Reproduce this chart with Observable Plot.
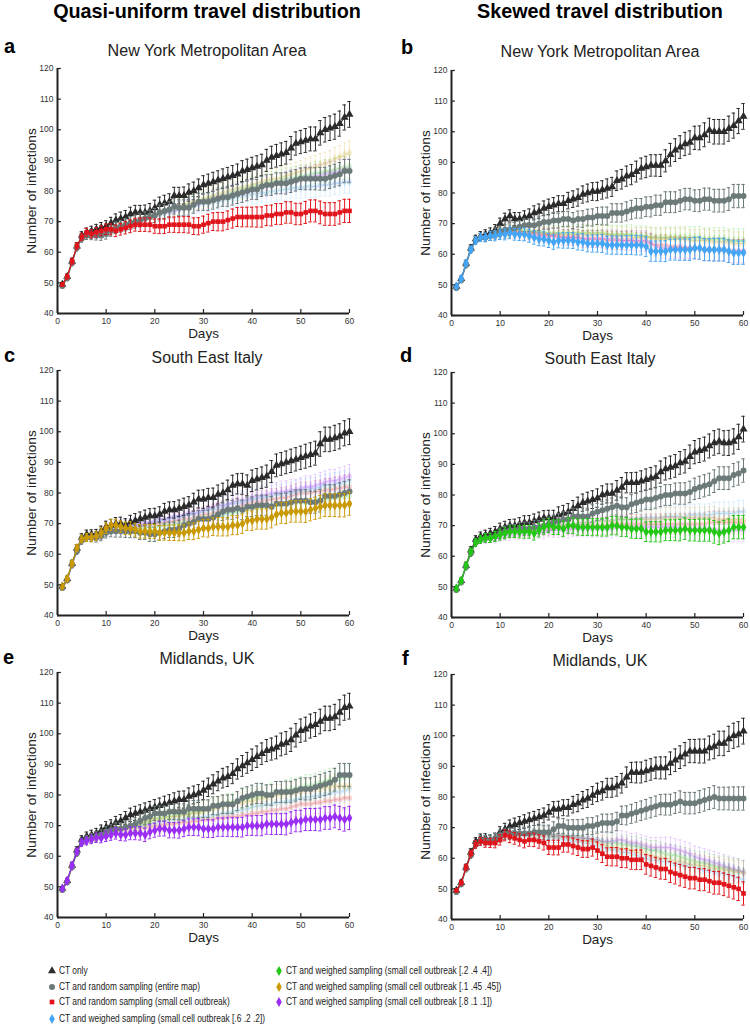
<!DOCTYPE html>
<html><head><meta charset="utf-8">
<script src="https://cdn.jsdelivr.net/npm/d3@7"></script>
<script src="https://cdn.jsdelivr.net/npm/@observablehq/plot@0.6"></script>
<style>
body{margin:0;background:#fff;font-family:"Liberation Sans",Arial,sans-serif;}
#root{position:relative;width:750px;height:1028px;overflow:hidden;background:#fff;}
.abs{position:absolute;white-space:nowrap;line-height:1;}
.coltitle{font-weight:bold;color:#000;transform:translateX(-50%);}
.letter{font-weight:bold;color:#000;}
.ptitle{color:#222;transform:translateX(-50%);}
.legtext{font-size:11.5px;color:#222;transform-origin:0 50%;display:inline-block;}
.plot{position:absolute;}
</style></head><body><div id="root"></div><script>
// ---------- data ----------
const days = [1,2,3,4,5,6,7,8,9,10,11,12,13,14,15,16,17,18,19,20,21,22,23,24,25,26,27,28,29,30,31,32,33,34,35,36,37,38,39,40,41,42,43,44,45,46,47,48,49,50,51,52,53,54,55,56,57,58,59,60];
const xTicks = [0,10,20,30,40,50,60];
const yTicks = [40,50,60,70,80,90,100,110,120];
const seriesNames = ["CT only","CT and random sampling (entire map)","CT and random sampling (small cell outbreak)","CT and weighed sampling (small cell outbreak [.6 .2 .2])","CT and weighed sampling (small cell outbreak [.2 .4 .4])","CT and weighed sampling (small cell outbreak [.1 .45 .45])","CT and weighed sampling (small cell outbreak [.8 .1 .1])"];
const seriesColors = ["#2b2b2b","#6c7a7a","#e0141a","#42a5f5","#22c814","#c99a06","#9a2ef5"];
const seriesSymbols = ["triangle","circle","square","diamond","diamond","diamond","diamond"];
const columnTitles = ["Quasi-uniform travel distribution","Skewed travel distribution"];
const panelLetters = ["a","b","c","d","e","f"];
const panelTitles = ["New York Metropolitan Area","New York Metropolitan Area","South East Italy","South East Italy","Midlands, UK","Midlands, UK"];

const errCT = [0.6,0.8,1,1.1,1.2,1.4,1.5,1.6,1.7,1.8,1.9,2,2.1,2.1,2.2,2.3,2.3,2.4,2.4,2.5,2.5,2.6,2.6,2.7,2.7,2.8,2.8,2.9,2.9,3,3,3.1,3.1,3.2,3.2,3.3,3.3,3.4,3.4,3.5,3.5,3.5,3.6,3.6,3.7,3.7,3.7,3.8,3.8,3.8,3.9,3.9,3.9,4,4,4,4.1,4.1,4.1,4.2];
const errOther = [0.6,0.8,1,1.1,1.2,1.3,1.4,1.5,1.6,1.7,1.8,1.9,1.9,2,2.1,2.1,2.2,2.2,2.3,2.3,2.4,2.4,2.5,2.5,2.6,2.6,2.7,2.7,2.8,2.8,2.9,2.9,3,3,3,3.1,3.1,3.2,3.2,3.2,3.3,3.3,3.3,3.4,3.4,3.4,3.5,3.5,3.5,3.5,3.6,3.6,3.6,3.7,3.7,3.7,3.7,3.8,3.8,3.8];

// panel a
const a_ct = [49.5,52,57,62,65.5,66.5,67,67.5,68,68.5,69.5,70.5,71,71.5,72.5,73,73,73,73.5,74.5,75.5,76,76.5,78.5,78.5,78.5,79.5,80,81,82,82.5,83,83.5,84,84.5,85,85.5,86.5,87,87.5,88,88.5,90,91,91.5,92,92.5,94,95.5,96,96.5,97,97,99,100,100.5,101,102,104,105];
const a_rand = [49,51.5,56.5,61.5,64.5,65.5,65.5,65.5,65.5,66,67,68,68.5,69,69.5,70,70.5,71,71.5,72,73,73.5,74,75,74.5,74.5,74.5,75.5,76.5,76.5,76.5,77,77.5,78,78,78.5,79,79.5,80,80.5,80.5,81.5,82,82,82.5,82.5,82.5,83,83.5,84,84,84,84,84,84,84.5,85,85.5,86.5,86.5];
const a_small = [49.5,52,57,62,65,66.5,66,66.5,67,67.5,67.5,67,67.5,68,68.5,69,69,69,69,68.5,68.5,68.5,69,69,69,69,69,68.5,68.5,69,69.5,70,70,70,70.5,71,71.5,71.5,71.5,71.5,71.5,71.5,72,72,72.5,72.5,73,73,72.5,72.5,73,73.5,73.5,73,72.5,72.5,72.5,73,73.5,73.5];
const a_w622 = [49.5,52,57,61.5,64.5,65.5,66,66,66.5,67,67.5,68,68.5,69,69.5,70,70.5,71,71.5,72,72.5,73,73.5,74,74,74.5,75,75,75.5,76,76,76.5,76.5,77,77.5,77.5,78,78.5,78.5,79,79,79.5,79.5,80,80,80.5,80.5,81,81,81,81.5,81.5,81.5,82,82,82,82.5,82.5,83,83];
const a_w244 = [49.5,52,57,61.5,64.5,65.5,66,66.5,66.5,67,67.5,68,68.5,69,69.5,70,70.5,71,71.5,72,72.5,73,73.5,74,74.5,75,75.5,76,76.5,77,77.5,78,78,78.5,79,79.5,80,80.5,81,81.5,81.5,82,82.5,83,83,83.5,84,84,84.5,85,85,85.5,86,86,86.5,86.5,87,87.5,87.5,88];
const a_w14545 = [49.5,52,57,62,65,65.5,66,66.5,67,67.5,68,68.5,69,69.5,70,70.5,71,71.5,72,72.5,73,73.5,74,74.5,75,75.5,76,76.5,77,77.5,78,78.5,79,79.5,80,80.5,81,81,81.5,82,82.5,83,83.5,84,84,84.5,85,85.5,86,86.5,87,87.5,88,88.5,89,89.5,90.5,91,92,92.5];
const a_w811 = [49.5,52,57,61.5,64.5,65.5,66,66,66.5,67,67.5,68,68.5,69,69.5,70,70.5,71,71.5,72,72.5,73,73,73.5,74,74.5,75,75.5,76,76.5,77,77.5,78,78,78.5,79,79.5,79.5,80,80.5,81,81.5,81.5,82,82.5,82.5,83,83.5,83.5,84,84.5,84.5,85,85,85.5,86,86,86.5,87,87];
// panel b
const b_ct = [49.5,52,57,62,65,66,66.5,67,68,70,71.5,72.5,71.5,71.5,72,72.5,73.5,74,75,75.5,76,76.5,76.5,77.5,78,78.5,79.5,80,80.5,80.5,81,81.5,82,84,84.5,85.5,86,87,88,88.5,89,89,89,90.5,92.5,94,95,96,96.5,98,98,99,100.5,100,100,100,101,102,103.5,105];
const b_rand = [49,51.5,56.5,61.5,64.5,65.5,65.5,66,67,67.5,68,68,68.5,69,69.5,69.5,69.5,70,70.5,70.5,71,71,71.5,71.5,71,71.5,71.5,72,72,72.5,72.5,72.5,73.5,73.5,73.5,74,74.5,75,75,75.5,75.5,76,76,77,77,77,77.5,78,78,77.5,77.5,78,78,77.5,77.5,77.5,78,79,79,79];
const b_small = [49.5,52,57,61.5,64.5,65.5,66,66,66.5,67,67,67.5,67.5,67.5,67,67,67,66.5,66.5,66,66,66,65.5,65.5,65.5,65.5,65,65,65,65,65,64.5,64.5,64.5,64.5,64.5,64.5,64,64,64,63.5,63,63,63,62.5,62.5,62.5,62,62,62,62,61.5,61.5,61.5,61.5,61.5,61,61,61,61];
const b_w622 = [49.5,52,57,61.5,64.5,65.5,65.5,66,66,66.5,66.5,67,66.5,66.5,66.5,66,65.5,65,65,64.5,64,64.5,64.5,64.5,64.5,64,64,63.5,63.5,63.5,63.5,63,63,63,63,63,63,63,63,62.5,61,61,61,61,61.5,61.5,61.5,61.5,61.5,62,62,61.5,61.5,61.5,61.5,61.5,61,60.5,60.5,60.5];
const b_w244 = [49.5,52,57,61.5,64.5,65.5,66,66,66.5,67,67.5,67.5,68,68,68,67.5,67.5,67.5,67,67,67,67,67,67,67,67,67,67,67,67,67,66.5,66.5,66.5,66.5,66.5,66.5,66,66,66,65.5,65.5,65.5,65.5,65.5,65.5,65.5,65.5,65.5,65.5,65.5,65,65,65,65,65,64.5,64.5,64.5,64.5];
const b_w14545 = [49.5,52,57,61.5,64.5,65.5,66,66,66.5,67,67,67.5,67.5,67.5,67.5,67,67,67,66.5,66.5,66.5,66.5,66.5,66.5,66.5,66.5,66.5,66.5,66.5,66.5,66.5,66.5,66,66,66,66,65.5,65.5,65.5,65.5,65.5,65,65,65,65,65,65,65,64.5,64.5,64.5,64.5,64.5,64,64,64,64,63.5,63.5,63.5];
const b_w811 = [49.5,52,57,61.5,64.5,65.5,66,66,66.5,66.5,67,67,67,67,66.5,66.5,66.5,66,66,66,66,65.5,65.5,65.5,65.5,65.5,65,65,65,65,65,65,65,65,64.5,64.5,64.5,64.5,64.5,64.5,63.5,62.5,62,62,62,62,62,62,62,62,62,61.5,61.5,61.5,61.5,61.5,61,61,61,61];
// panel c
const c_ct = [49.5,52,57,62,65.5,66.5,66.5,66.5,67.5,69,69.5,70,70,69.5,70.5,71,71.5,72,72.5,72.5,73,74,74.5,74.5,75,75.5,76,77,78,78,78.5,78.5,79.5,80,81,82.5,83,83,82.5,84,84.5,85,85.5,87,89,89.5,90,90.5,91,91.5,92,92.5,93,96,97.5,97.5,98,98.5,99.5,100];
const c_rand = [49,51.5,56.5,61,64.5,65.5,65.5,65.5,66,67,67.5,67.5,67.5,67.5,67.5,67.5,67,67,66.5,66.5,67,67.5,68,68,68.5,69.5,70,70.5,71.5,71.5,71.5,72,73,74,74.5,74.5,75,74.5,75.5,75.5,76,76,76,75.5,76.5,76.5,76.5,77,77.5,77.5,77.5,77,77,77.5,79,79,79,79.5,80,80.5];
const c_small = [49.5,52,57,61.5,64.5,65.5,66,66,66.5,67.5,68.5,69,69,69,69,69,69,69.5,69.5,70,70,70.5,70.5,71,71,71.5,71.5,72,72.5,73,73,73.5,74,74.5,75,75,75.5,76,76.5,77,77,77.5,77.5,78,78,78.5,78.5,79,79.5,80,80,80,80.5,80.5,81,81,81.5,81.5,82,82];
const c_w622 = [49.5,52,57,61.5,64.5,65.5,66,66,66.5,67.5,68.5,69,69,69,69.5,69.5,69.5,70,70,70.5,71,71,71.5,72,72,72.5,73,73,73.5,74,74.5,74.5,75,75.5,76,76.5,76.5,77,77.5,78,78,78.5,78.5,79,79.5,79.5,80,80,80.5,81,81,81.5,81.5,82,82.5,82.5,83,83,83.5,84];
const c_w244 = [49.5,52,57,61.5,64.5,65.5,66,66,66.5,67.5,68.5,69,69,68.5,68.5,68.5,68.5,68.5,69,69,69,69.5,69.5,70,70,70.5,70.5,71,71.5,72,72,72.5,72.5,73,73.5,73.5,74,74,74.5,75,75,75.5,75.5,76,76,76,76.5,76.5,77,77,77,77.5,77.5,78,78,78,78.5,78.5,79,79];
const c_w14545 = [49.5,52,57,62,65,65.5,65.5,66,67,68.5,69.5,69.5,69,68.5,68.5,68,67.5,67.5,67.5,67.5,67,67,67,67,67,67,67.5,67.5,68,68.5,68.5,69,69,69,69,69.5,69.5,70,71,71,71.5,71.5,71.5,72,73,73.5,73.5,74,74,74,74,74.5,75,75.5,76,76,76,76,76,76.5];
const c_w811 = [49.5,52,57,61.5,64.5,65.5,66,66,66.5,67.5,68.5,69,69.5,69.5,69.5,70,70,70.5,70.5,71,71.5,71.5,72,72.5,72.5,73,73.5,73.5,74,74.5,75,75.5,76,76,76.5,77,77.5,77.5,78,78.5,79,79,79.5,80,80,80.5,80.5,81,81,81.5,82,82,82.5,83,83.5,84,84,84.5,85,85.5];
// panel d
const d_ct = [49.5,52,57,62,65.5,66.5,67,67.5,68,69,69.5,70,70,70.5,71,71,71.5,72,72.5,72.5,72.5,73.5,74,74.5,75.5,76.5,77.5,78,78.5,79,80,80.5,80.5,81.5,82.5,84,84,84,84.5,85,85.5,86,87.5,88.5,89,89.5,90.5,91,92.5,94,94.5,95,96,97,97.5,97,97,97.5,99,101.5];
const d_rand = [49,51.5,56.5,61,64.5,65.5,66,66,66.5,67.5,68,68.5,68.5,69,69,69,69.5,69.5,70,70.5,71,71.5,72,72,73,73,73,73,74,74.5,75,75.5,76,76.5,76,76,77,77.5,78,78.5,78.5,79,79.5,80,80,80.5,80.5,80.5,81,82,82.5,83,83.5,84.5,85.5,85.5,85.5,86.5,87,88];
const d_small = [49.5,52,57,61.5,64.5,65.5,66,66,66.5,67,67.5,68,68,68.5,68.5,68.5,68.5,69,69,69,69,69.5,69.5,69.5,69.5,69.5,70,70,70,70,70,70,70.5,70.5,70.5,70.5,70.5,70.5,70.5,70.5,70.5,70.5,70.5,70.5,70.5,70.5,70.5,70.5,70.5,70.5,70.5,70.5,71,71,71,71,71,71,71,71];
const d_w622 = [49.5,52,57,61.5,64.5,65.5,66,66,66.5,67,67.5,68,68.5,68.5,69,69,69,69.5,69.5,70,70,70,70.5,70.5,70.5,70.5,71,71,71,71.5,71.5,71.5,71.5,72,72,72,72,72,72.5,72.5,72.5,72.5,72.5,73,73,73,73,73,73.5,73.5,73.5,73.5,73.5,74,74,74,74,74,74.5,74.5];
const d_w244 = [49.5,52,57,61.5,64.5,65.5,66,66,66.5,67,67.5,68,68,68,68,68,67.5,68.5,69.5,70,69.5,69.5,69,70,70,69.5,69.5,69.5,69.5,69.5,69.5,69.5,70,70,69.5,69.5,69,69,69,68,68,68,68,68.5,68.5,68.5,68.5,69,68.5,68.5,68.5,68.5,68.5,68,67.5,68,68.5,69.5,69.5,69.5];
const d_w14545 = [49.5,52,57,61.5,64.5,65.5,66,66,66.5,67,67.5,68,68.5,68.5,69,69,69,69.5,69.5,70,70,70,70.5,70.5,70.5,71,71,71,71,71.5,71.5,71.5,71.5,72,72,72,72,72,72,72,72,72,72.5,72.5,72.5,72.5,72.5,72.5,72.5,72.5,72.5,72.5,72.5,72.5,72,72,72,72,72,72];
const d_w811 = [49.5,52,57,61.5,64.5,65.5,65.5,66,66,66.5,67,67,67.5,67.5,67.5,68,68,68,68,68.5,68.5,68.5,68.5,68.5,69,69,69,69,69,69,69,69,69,69.5,69.5,69.5,69.5,69.5,69.5,69.5,69.5,69.5,69.5,69.5,69.5,69.5,69,69,69,69,69,69,69,69,68.5,68.5,68.5,68.5,68.5,68.5];
// panel e
const e_ct = [49.5,52,57,62,65.5,66.5,67,67.5,68.5,69.5,70,71,71.5,72.5,73.5,74,74.5,75,75.5,76,76.5,77,77.5,78,78.5,78.5,79.5,80,80.5,81.5,82.5,83.5,84.5,85.5,86,87,88.5,89.5,90.5,91.5,92.5,93.5,94.5,95,95.5,96.5,97,98,99.5,101,101.5,102.5,103,104,105,105,105.5,107,108.5,109];
const e_rand = [49,51.5,56.5,61,64.5,65.5,66,66.5,67,68,68.5,69,69,69.5,70,70.5,71.5,72.5,73,74,74,74,74.5,74.5,74.5,74.5,75.5,75.5,75.5,75.5,75.5,76.5,76.5,77,77,77,78,79,79.5,80,80.5,80.5,80,80,81,81,81,81,81.5,82,82,82,82.5,83,83.5,84,85,86.5,86.5,86.5];
const e_small = [49.5,52,57,61.5,64.5,65.5,66,66.5,67,67.5,68,68,68.5,68.5,69,69,69,69.5,69.5,70,70,70.5,70.5,70.5,71,71,71,71.5,71.5,72,72,72,72.5,72.5,73,73,73,73.5,73.5,74,74,74.5,74.5,75,75,75.5,75.5,76,76.5,77,77,77,77.5,77.5,78,78,78.5,78.5,79,79];
const e_w622 = [49.5,52,57,61.5,64.5,65.5,66,66.5,67,67.5,68,68.5,68.5,69,69.5,69.5,70,70,70.5,71,71,71.5,71.5,72,72,72,72.5,72.5,72.5,73,73,73.5,73.5,74,74,74.5,75,75,75.5,76,76.5,76.5,77,77,77.5,77.5,78,78,78.5,79,79,79.5,79.5,80,80,80.5,81,81,81.5,82];
const e_w244 = [49.5,52,57,61.5,64.5,65.5,66,66.5,67,67.5,68,68.5,69,69.5,70,70,70.5,71,71.5,72.5,72.5,73,73,73.5,73.5,74,74,74.5,74.5,75,75.5,76,76.5,77,77.5,77.5,78,78.5,79,79,79.5,80,80,80.5,81,81,81.5,82,82,82.5,83,83,83.5,84,84.5,85,85,85.5,86,86];
const e_w14545 = [49.5,52,57,61.5,64.5,65.5,66,66.5,67,67.5,68,68.5,69,69.5,69.5,70,70.5,71,71.5,72,72,72.5,72.5,73,73,73.5,73.5,74,74,74.5,75,75.5,76,76.5,77,77,77.5,77.5,78,78,78.5,79,79,79.5,80,80,80.5,80.5,81,81,81.5,81.5,82,82,82.5,82.5,83,83,83,83];
const e_w811 = [49.5,52,57,61.5,64.5,65,65.5,66,66,66.5,67,67.5,67,67,67.5,67.5,67.5,67,68,68.5,69,69,68.5,68.5,68.5,69,69.5,69.5,69.5,69,69,69,69.5,69.5,69.5,69.5,69.5,69.5,70,70,70,70,70.5,70.5,70.5,70.5,70.5,71,71.5,71.5,72,72,72,72,72.5,72.5,73,72.5,72,72.5];
// panel f
const f_ct = [49.5,52,57,62,65.5,66.5,66.5,66,66.5,68.5,69.5,70.5,71,71.5,72,72.5,73,73.5,74,75,76,76,76.5,76.5,77.5,78,79,79.5,80.5,81.5,82,83,83,83.5,84.5,86.5,88,88,88,88.5,89,89.5,89.5,89.5,91,92,93,94,95,95,95,95,96,96.5,97.5,97.5,99,100,100.5,101.5];
const f_rand = [49,51.5,56.5,61,64.5,66,66,66,66.5,67.5,68,68,68,68,68,68,68.5,68.5,68.5,68.5,69.5,70.5,70.5,70,70,70,70,70.5,70.5,71,71.5,71.5,71.5,72,74,74,74.5,75,75.5,76,76.5,77,77.5,77.5,77.5,78,78.5,78,78,78,78.5,79,79.5,80,79.5,79.5,79.5,79.5,79.5,79.5];
const f_small = [49.5,52,57,61.5,64.5,65.5,65,65,65,66,67.5,67,66.5,66,65.5,66,66,65.5,65,63.5,63.5,63.5,64.5,64.5,64,63.5,63,63,63.5,62.5,61.5,60.5,60.5,60.5,60,60,59.5,59.5,59.5,58,57.5,57,56.5,56.5,55.5,55,54.5,54,53.5,53.5,53,53,52.5,52,52,51.5,51,50.5,50,48.5];
const f_w622 = [49.5,52,57,61.5,64.5,65.5,65.5,65.5,66,67,67.5,68,68,67.5,67.5,67.5,67.5,67,67,67,66.5,66.5,66,66,65.5,65.5,65,65,64.5,64,63.5,63,63,62.5,62,62,61.5,61,60.5,60,59.5,59.5,59,59,58.5,58,58,57.5,57.5,57,56.5,56,56,55.5,55,55,54.5,54,53.5,53];
const f_w244 = [49.5,52,57,61.5,64.5,65.5,65.5,66,66,67,68,68.5,68.5,68.5,68.5,68.5,68.5,68,68,68,67.5,67.5,67.5,67,67,67,66.5,66.5,66,66,65.5,65,65,65,64.5,64.5,64,64,63.5,63,62.5,62.5,62,61.5,61,61,60.5,60,59.5,59,58.5,58.5,58,57.5,57,57,56.5,56,56,55.5];
const f_w14545 = [49.5,52,57,61.5,64.5,65.5,65.5,66,66,67,68,68,68,68,68,68,67.5,67.5,67.5,67.5,67,67,67,66.5,66.5,66,66,65.5,65.5,65,64.5,64,63.5,63.5,63,63,62.5,62,62,61.5,61,60.5,60.5,60,59.5,59,59,58.5,58,58,57.5,57.5,57,56.5,56.5,56,56,55.5,55.5,55];
const f_w811 = [49.5,52,57,61.5,64.5,65.5,65.5,66,66,67,68,68.5,68.5,68.5,68.5,68.5,68.5,68,68,68,67.5,67.5,67,67,67,66.5,66.5,66.5,66,66,65.5,65.5,65.5,66,66,65.5,65,65,64.5,64,63.5,63.5,63.5,63.5,63.5,63,62.5,62,61.5,60.5,60,59.5,59,58.5,58,57.5,57,56.5,56,55.5];

const panelSeries = [
  [a_ct,a_rand,a_small,a_w622,a_w244,a_w14545,a_w811],
  [b_ct,b_rand,b_small,b_w622,b_w244,b_w14545,b_w811],
  [c_ct,c_rand,c_small,c_w622,c_w244,c_w14545,c_w811],
  [d_ct,d_rand,d_small,d_w622,d_w244,d_w14545,d_w811],
  [e_ct,e_rand,e_small,e_w622,e_w244,e_w14545,e_w811],
  [f_ct,f_rand,f_small,f_w622,f_w244,f_w14545,f_w811]
];
const panelHighlight = [2,3,5,4,6,2];

// ---------- layout ----------
const layout = [
  {left:0,   top:58,  ml:57, mr:26, letterX:4,   letterBase:53,  titleX:207, titleBase:56,  titleW:199},
  {left:375, top:60,  ml:76, mr:7,  letterX:401, letterBase:54,  titleX:600, titleBase:57,  titleW:199},
  {left:0,   top:360, ml:57, mr:26, letterX:4,   letterBase:362, titleX:207, titleBase:363, titleW:111},
  {left:375, top:362, ml:76, mr:7,  letterX:400, letterBase:362, titleX:600, titleBase:364, titleW:111},
  {left:0,   top:662, ml:57, mr:26, letterX:3,   letterBase:664, titleX:207, titleBase:665, titleW:95},
  {left:375, top:664, ml:76, mr:7,  letterX:402, letterBase:665, titleX:600, titleBase:667, titleW:95}
];
const root = document.getElementById("root");
function addText(cls, txt, x, baseline, fs, targetW) {
  const el = document.createElement("div");
  el.className = "abs " + cls;
  el.textContent = txt;
  el.style.left = x + "px";
  el.style.fontSize = fs + "px";
  root.appendChild(el);
  if (targetW) {
    const w = el.getBoundingClientRect().width;
    if (w > 0) fs = Math.max(fs * 0.8, Math.min(fs * 1.2, fs * targetW / w));
    el.style.fontSize = fs + "px";
  }
  el.style.top = (baseline - 0.8465 * fs) + "px";
  return el;
}
addText("coltitle", columnTitles[0], 207, 19, 20, 308);
addText("coltitle", columnTitles[1], 600, 19, 20, 246);

const symR = {triangle: 3.0, circle: 3.0, square: 2.6, diamond: 3.0};

function seriesMarks(vals, idx, faded, isCT) {
  const color = seriesColors[idx];
  const err = isCT ? errCT : errOther;
  const rows = days.map((d, i) => ({day: d, v: vals[i], e: err[i]}));
  const op = faded ? 0.18 : 1;
  const sw = 1;
  return [
    Plot.ruleX(rows, {x: "day", y1: d => d.v - d.e, y2: d => d.v + d.e, stroke: color, strokeWidth: sw, strokeOpacity: op}),
    Plot.ruleY(rows, {y: d => d.v + d.e, x1: d => d.day - 0.35, x2: d => d.day + 0.35, stroke: color, strokeWidth: sw, strokeOpacity: op}),
    Plot.ruleY(rows, {y: d => d.v - d.e, x1: d => d.day - 0.35, x2: d => d.day + 0.35, stroke: color, strokeWidth: sw, strokeOpacity: op}),
    Plot.line(rows, {x: "day", y: "v", stroke: color, strokeWidth: 1.1, strokeOpacity: op}),
    Plot.dot(rows, {x: "day", y: "v", symbol: seriesSymbols[idx], r: symR[seriesSymbols[idx]], fill: color, fillOpacity: op, stroke: "none"})
  ];
}

panelSeries.forEach((series, p) => {
  const L = layout[p];
  const hi = panelHighlight[p];
  addText("letter", panelLetters[p], L.letterX, L.letterBase, 20);
  addText("ptitle", panelTitles[p], L.titleX, L.titleBase, 16, L.titleW);
  const marks = [];
  for (let s = 2; s < 7; s++) if (s !== hi) marks.push(...seriesMarks(series[s], s, true, false));
  marks.push(...seriesMarks(series[0], 0, false, true));
  marks.push(...seriesMarks(series[1], 1, false, false));
  marks.push(...seriesMarks(series[hi], hi, false, false));
  marks.push(
    Plot.ruleX(xTicks, {x: d => d, y1: 40, y2: 41.3, stroke: "#222", strokeWidth: 1.2}),
    Plot.ruleY(yTicks, {y: d => d, x1: 0, x2: 0.8, stroke: "#222", strokeWidth: 1.2}),
    Plot.ruleY([40], {stroke: "#222", strokeWidth: 2}),
    Plot.ruleX([0], {stroke: "#222", strokeWidth: 2}),
    Plot.axisX(xTicks, {tickSize: 0, tickPadding: 4, fontSize: 8.5, fill: "#333", label: null}),
    Plot.axisY(yTicks, {tickSize: 0, tickPadding: 4, fontSize: 8.5, fill: "#333", label: null}),
    Plot.text(["Days"], {frameAnchor: "bottom", dy: 20, fontSize: 13.5, fill: "#222", lineAnchor: "middle", textAnchor: "middle"}),
    Plot.text(["Number of infections"], {frameAnchor: "left", dx: -26, rotate: -90, fontSize: 13.7, fill: "#222", textAnchor: "middle", lineAnchor: "middle"})
  );
  const chart = Plot.plot({
    width: 375, height: 300,
    marginLeft: L.ml, marginRight: L.mr, marginTop: 10, marginBottom: 45,
    x: {domain: [0, 60]},
    y: {domain: [40, 120]},
    style: {background: "transparent", overflow: "visible", fontFamily: "'Liberation Sans', Arial, sans-serif"},
    marks
  });
  chart.classList.add("plot");
  chart.style.left = L.left + "px";
  chart.style.top = L.top + "px";
  root.appendChild(chart);
});

// ---------- legend ----------
const legendPos = [
  {x: 52, y: 971}, {x: 52, y: 987}, {x: 52, y: 1002}, {x: 52, y: 1019},
  {x: 279, y: 971}, {x: 279, y: 987}, {x: 279, y: 1002}
];
const symMap = {triangle: d3.symbolTriangle, circle: d3.symbolCircle, square: d3.symbolSquare, diamond: d3.symbolDiamond};
const legendSpans = [];
seriesNames.forEach((name, i) => {
  const pos = legendPos[i];
  const svg = d3.create("svg").attr("width", 10).attr("height", 10)
    .style("position", "absolute").style("left", (pos.x - 5) + "px").style("top", (pos.y - 5) + "px");
  const sym = seriesSymbols[i];
  const size = sym === "square" ? 22 : 28;
  svg.append("path").attr("transform", "translate(5,5)")
    .attr("d", d3.symbol(symMap[sym], size)()).attr("fill", seriesColors[i]);
  root.appendChild(svg.node());
  const el = document.createElement("div");
  el.className = "abs";
  el.style.left = (pos.x + 7) + "px";
  el.style.top = (pos.y - 7) + "px";
  el.style.height = "14px";
  el.style.display = "flex";
  el.style.alignItems = "center";
  const span = document.createElement("span");
  span.className = "legtext";
  span.textContent = name;
  el.appendChild(span);
  root.appendChild(el);
  legendSpans.push(span);
});
// fit the condensed legend lettering to the reference width of the second entry (141px)
const refW = legendSpans[1].getBoundingClientRect().width;
const k = refW > 0 ? Math.max(0.6, Math.min(1.1, 141 / refW)) : 0.78;
legendSpans.forEach(s => { s.style.transform = `scaleX(${k})`; });
</script></body></html>
